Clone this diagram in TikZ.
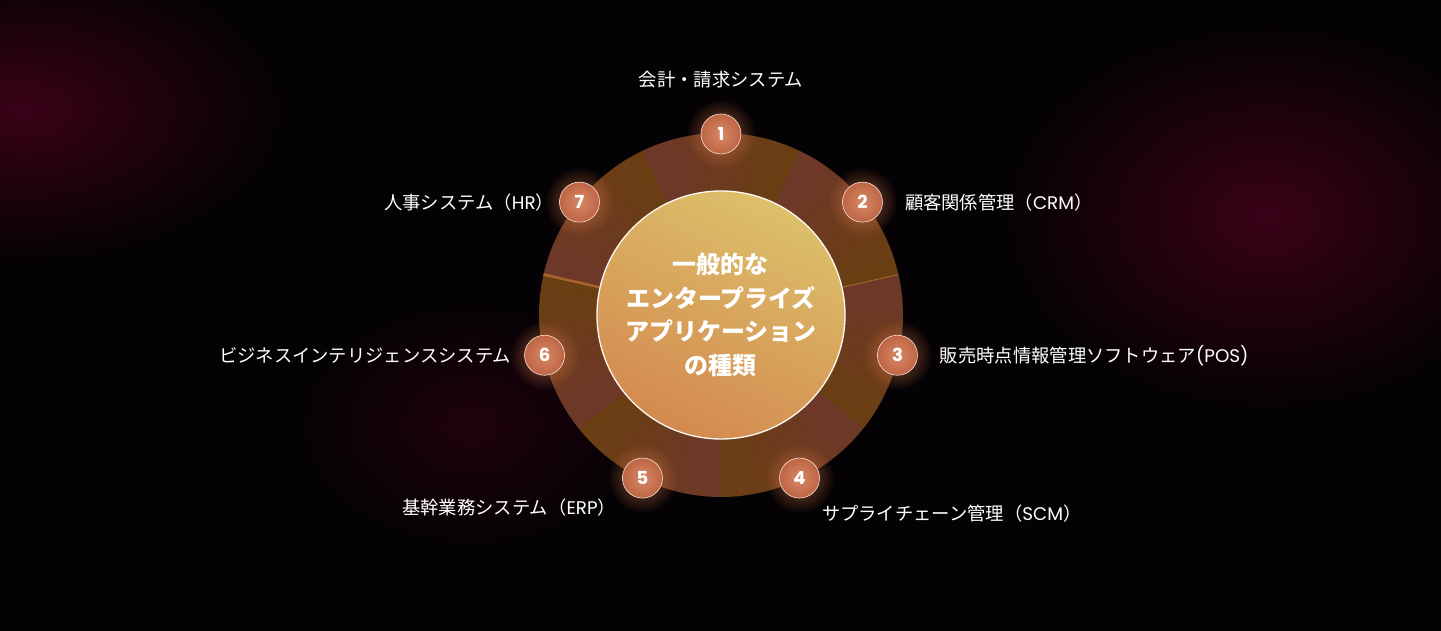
\documentclass[tikz,border=0pt]{standalone}
\usepackage{fontspec}
\newfontfamily\jpfont{Noto Sans CJK JP}
\newfontfamily\numfont{Poppins}
\usetikzlibrary{positioning,fadings}

\tikzfading[name=glowfade,inner color=transparent!0,outer color=transparent!100]

\definecolor{bgdark}{HTML}{050205}
\definecolor{bgglow}{HTML}{3A0218}
\definecolor{segred}{HTML}{6E3829}
\definecolor{segorange}{HTML}{6A3F10}
\definecolor{segline}{HTML}{A5652A}
\definecolor{hubtop}{HTML}{DCC06A}
\definecolor{hubbottom}{HTML}{D4894F}
\definecolor{badgein}{HTML}{D98866}
\definecolor{badgeout}{HTML}{BD6544}
\definecolor{badgeglow}{HTML}{E8804A}

\tikzset{
  hub/.style={circle,minimum size=248pt,inner sep=0pt,draw=white!92!hubtop,line width=1.3pt,
    top color=hubtop,bottom color=hubbottom,shading angle=-25,
    text=white,align=center,font=\jpfont\bfseries\fontsize{24}{33.5}\selectfont},
  badge/.style={circle,minimum size=40pt,inner sep=0pt,draw=white!75!badgein,line width=0.6pt,
    inner color=badgein,outer color=badgeout,text=white,font=\numfont\bfseries\fontsize{18}{18}\selectfont},
  lbl/.style={inner sep=0pt,text=white,font=\jpfont\fontsize{18.3}{22}\selectfont}
}

\begin{document}
\begin{tikzpicture}[x=1pt,y=1pt]
\useasboundingbox (-721,-316) rectangle (720,315);

% Hintergrund
\fill[bgdark] (-721,-316) rectangle (720,315);
\fill[bgglow,path fading=glowfade] (-700,205) ellipse (260 and 150);
\fill[bgglow,path fading=glowfade] (546,98) ellipse (260 and 190);
\fill[bgglow,opacity=0.5,path fading=glowfade] (-250,-110) ellipse (170 and 120);

% Ring
\foreach \i in {0,...,6}{
  \foreach \j in {0,...,9}{
    \pgfmathsetmacro{\aone}{115.714-\i*51.4286-\j*5.14286}
    \pgfmathtruncatemacro{\pct}{100-\j*10}
    \fill[segred!\pct!segorange] (0,0) -- (\aone:182) arc[start angle=\aone,delta angle=-5.3,radius=182] -- cycle;
  }
}
\draw[segline,line width=1pt] (12.857:120) -- (12.857:182);
\draw[segline,line width=2.5pt] (167.143:120) -- (167.143:182);

% Mitte
\node[hub] (hub) at (0,0) {一般的な\\エンタープライズ\\アプリケーション\\の種類};

% Nummern
\foreach \n in {1,...,7}{
  \pgfmathsetmacro{\ang}{90-(\n-1)*51.4286}
  \fill[badgeglow,opacity=0.6,path fading=glowfade] (\ang:181) circle (35);
  \node[badge] (b\n) at (\ang:181) {\n};
}

% Beschriftungen
\node[lbl,above=25pt of b1] (l1) {会計・請求システム};
\node[lbl,right=22pt of b2] (l2) {顧客関係管理（{\numfont CRM}）};
\node[lbl,right=22pt of b3] (l3) {販売時点情報管理ソフトウェア{\numfont (POS)}};
\node[lbl,below right=12pt and 8pt of b4] (l4) {サプライチェーン管理（{\numfont SCM}）};
\node[lbl,below left=6pt and 12pt of b5] (l5) {基幹業務システム（{\numfont ERP}）};
\node[lbl,left=13pt of b6] (l6) {ビジネスインテリジェンスシステム};
\node[lbl,left=5pt of b7] (l7) {人事システム（{\numfont HR}）};

\end{tikzpicture}
\end{document}
